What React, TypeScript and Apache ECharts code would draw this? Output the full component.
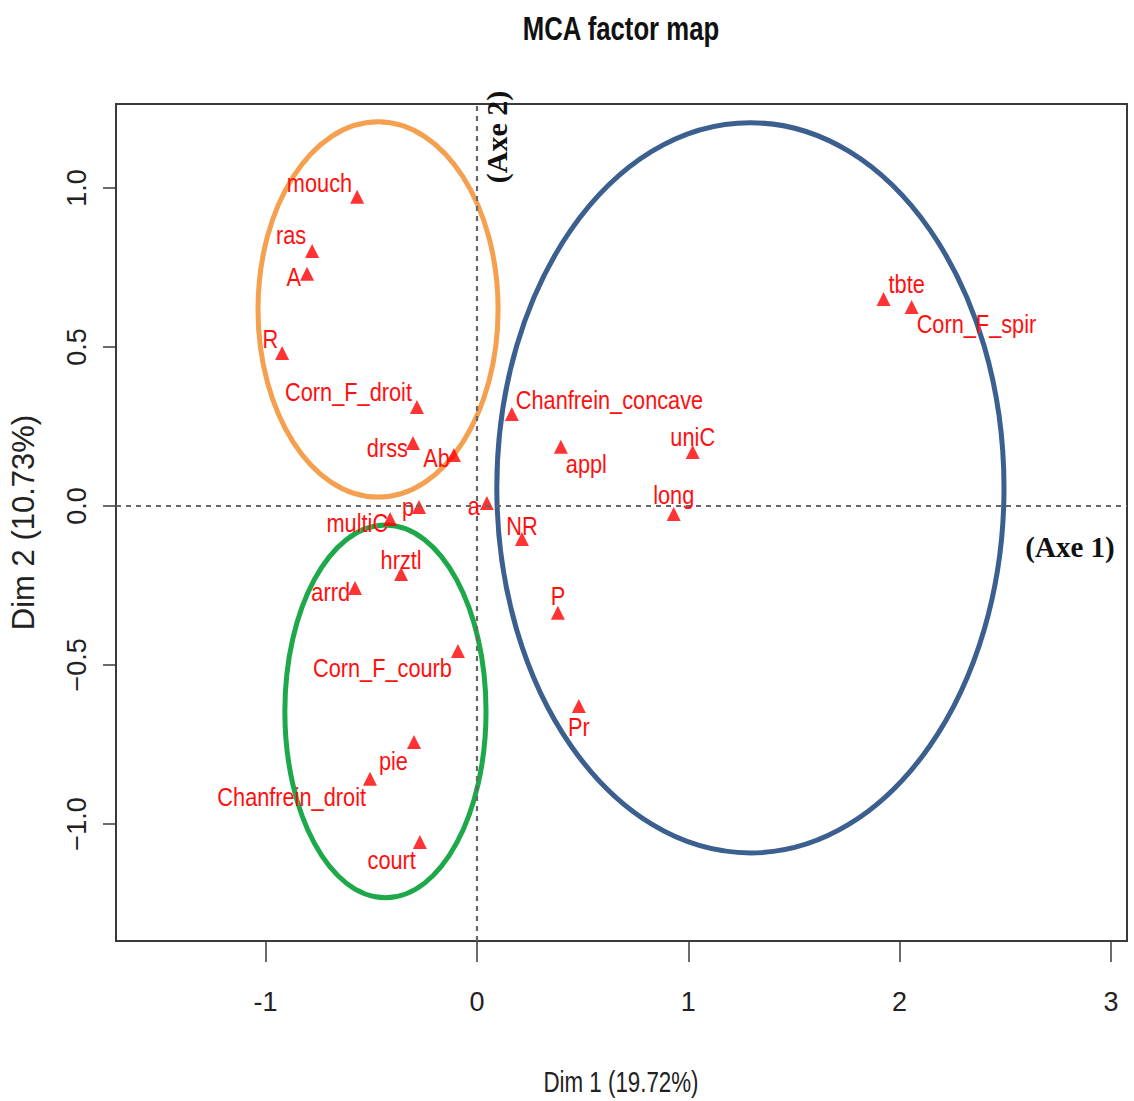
import React, { useEffect, useRef } from "react";
import * as echarts from "echarts";

// MCA category coordinates
const categories = [
  "mouch", "ras", "A", "R", "Corn_F_droit", "drss", "Ab", "p", "a", "multiC",
  "hrztl", "arrd", "Corn_F_courb", "pie", "Chanfrein_droit", "court",
  "Chanfrein_concave", "appl", "uniC", "long", "NR", "P", "Pr", "tbte", "Corn_F_spir",
];
const dim1 = [
  -0.567, -0.780, -0.804, -0.922, -0.284, -0.303, -0.109, -0.274, 0.047, -0.411,
  -0.359, -0.577, -0.090, -0.298, -0.506, -0.270,
  0.165, 0.397, 1.021, 0.931, 0.213, 0.383, 0.482, 1.924, 2.057,
];
const dim2 = [
  0.972, 0.802, 0.730, 0.481, 0.311, 0.198, 0.160, -0.003, 0.009, -0.041,
  -0.214, -0.258, -0.456, -0.742, -0.858, -1.057,
  0.289, 0.186, 0.170, -0.025, -0.104, -0.336, -0.629, 0.651, 0.626,
];

// group ellipses: centre and semi-axes in data units
const groupColors = ["#F4A04F", "#3B5F8E", "#1DA84A"];
const groupCx = [-0.468, 1.294, -0.433];
const groupCy = [0.618, 0.057, -0.646];
const groupRx = [0.568, 1.2, 0.476];
const groupRy = [0.59, 1.148, 0.586];

const xTicks = [-1, 0, 1, 2, 3];
const yTicks = [-1, -0.5, 0, 0.5, 1];

// label placement around each triangle: [align, dx, dy]
const labelPlacement: Record<string, [string, number, number]> = {
  mouch: ["right", -5, -13],
  ras: ["right", -6, -15],
  A: ["right", -6, 4],
  R: ["right", -4, -14],
  Corn_F_droit: ["right", -5, -15],
  drss: ["right", -5, 5],
  Ab: ["right", -4, 3],
  p: ["right", -5, 1],
  a: ["right", -7, 3],
  multiC: ["right", -2, 4],
  hrztl: ["center", 0, -14],
  arrd: ["right", -5, 4],
  Corn_F_courb: ["right", -6, 17],
  pie: ["right", -6, 20],
  Chanfrein_droit: ["right", -4, 19],
  court: ["right", -4, 18],
  Chanfrein_concave: ["left", 4, -14],
  appl: ["left", 5, 18],
  uniC: ["center", 0, -14],
  long: ["center", 0, -18],
  NR: ["center", 0, -13],
  P: ["center", 0, -16],
  Pr: ["center", 0, 21],
  tbte: ["left", 5, -14],
  Corn_F_spir: ["left", 5, 18],
};

const SANS = "'Liberation Sans', Arial, sans-serif";
const SERIF = "'Liberation Serif', 'Times New Roman', serif";

export default function App() {
  const ref = useRef<HTMLDivElement>(null);

  useEffect(() => {
    if (!ref.current) return;
    const chart = echarts.init(ref.current, undefined, { renderer: "svg" });

    const ellipses = groupColors.map((_c, i) => [groupCx[i], groupCy[i], groupRx[i], groupRy[i], i]);

    chart.setOption({
      animation: false,
      backgroundColor: "#ffffff",
      grid: {
        left: 116,
        top: 104,
        width: 1011,
        height: 837,
        show: true,
        borderColor: "#3a3a3a",
        borderWidth: 2,
        backgroundColor: "transparent",
      },
      xAxis: {
        type: "value",
        min: -1.708,
        max: 3.076,
        splitLine: { show: false },
        axisLine: { show: true, onZero: false, lineStyle: { color: "#3a3a3a", width: 2 } },
        axisTick: {
          customValues: xTicks,
          length: 21,
          lineStyle: { color: "#3a3a3a", width: 1.5 },
        },
        axisLabel: {
          customValues: xTicks,
          formatter: (v: number) => String(v),
          fontFamily: SANS,
          fontSize: 27,
          color: "#222",
          margin: 47,
        },
      },
      yAxis: {
        type: "value",
        min: -1.368,
        max: 1.264,
        splitLine: { show: false },
        axisLine: { show: true, onZero: false, lineStyle: { color: "#3a3a3a", width: 2 } },
        axisTick: {
          customValues: yTicks,
          length: 13,
          lineStyle: { color: "#3a3a3a", width: 1.5 },
        },
        axisLabel: {
          customValues: yTicks,
          rotate: 90,
          formatter: (v: number) => (v < 0 ? "\u2212" + Math.abs(v).toFixed(1) : v.toFixed(1)),
          fontFamily: SANS,
          fontSize: 27,
          color: "#222",
          margin: 26,
        },
        name: "Dim 2 (10.73%)",
        nameLocation: "middle",
        nameGap: 77,
        nameTextStyle: { fontFamily: SANS, fontSize: 31, color: "#222" },
      },
      series: [
        {
          type: "custom",
          clip: false,
          silent: true,
          data: ellipses,
          renderItem: (_params: any, api: any) => {
            const c = api.coord([api.value(0), api.value(1)]);
            const s = api.size([api.value(2), api.value(3)]);
            const idx = api.value(4);
            return {
              type: "ellipse",
              shape: { cx: c[0], cy: c[1], rx: s[0], ry: s[1] },
              style: { fill: "none", stroke: groupColors[idx], lineWidth: 5 },
            };
          },
          z: 1,
        },
        {
          type: "scatter",
          symbol: "triangle",
          symbolSize: 14,
          itemStyle: { color: "#ff0000" },
          data: categories.map((name, i) => ({ name, value: [dim1[i], dim2[i]] })),
          z: 3,
          markLine: {
            silent: true,
            symbol: ["none", "none"],
            label: { show: false },
            lineStyle: { type: [5, 5], color: "#666", width: 2.2 },
            data: [{ xAxis: 0 }, { yAxis: 0 }],
          },
        },
      ],
    });

    // point labels in a condensed face, anchored at each point's pixel position
    const pointLabels = categories.map((name, i) => {
      const [align, dx, dy] = labelPlacement[name];
      const [px, py] = chart.convertToPixel({ gridIndex: 0 }, [dim1[i], dim2[i]]) as number[];
      return {
        type: "text",
        x: px + dx,
        y: py + dy,
        scaleX: 0.87,
        z: 10,
        style: {
          text: name,
          fontFamily: SANS,
          fontSize: 25,
          fill: "#ff1010",
          align,
          verticalAlign: "middle",
        },
      };
    });

    chart.setOption({
      graphic: [
        {
          type: "text",
          x: 621,
          y: 28,
          scaleX: 0.78,
          style: {
            text: "MCA factor map",
            fontFamily: SANS,
            fontWeight: "bold",
            fontSize: 33,
            fill: "#111",
            align: "center",
            verticalAlign: "middle",
          },
        },
        {
          type: "text",
          x: 621,
          y: 1082,
          scaleX: 0.77,
          style: {
            text: "Dim 1 (19.72%)",
            fontFamily: SANS,
            fontSize: 29,
            fill: "#222",
            align: "center",
            verticalAlign: "middle",
          },
        },
        {
          type: "text",
          x: 496,
          y: 137,
          rotation: Math.PI / 2,
          style: {
            text: "(Axe 2)",
            fontFamily: SERIF,
            fontWeight: "bold",
            fontSize: 30,
            fill: "#111",
            align: "center",
            verticalAlign: "middle",
          },
        },
        {
          type: "text",
          x: 1070,
          y: 547,
          style: {
            text: "(Axe 1)",
            fontFamily: SERIF,
            fontWeight: "bold",
            fontSize: 29,
            fill: "#111",
            align: "center",
            verticalAlign: "middle",
          },
        },
        ...pointLabels,
      ],
    });

    return () => chart.dispose();
  }, []);

  return (
    <div
      ref={ref}
      style={{ position: "absolute", left: 0, top: 0, width: 1134, height: 1101 }}
    />
  );
}
